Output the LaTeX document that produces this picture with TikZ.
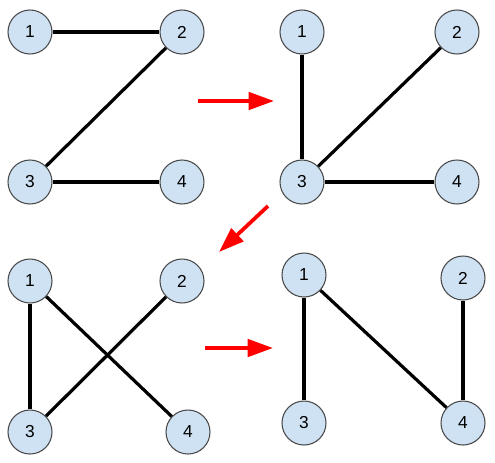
\documentclass[tikz,border=0pt]{standalone}
\usepackage{fontspec}
\setmainfont{Liberation Sans}
\usetikzlibrary{arrows.meta}
\definecolor{nodefill}{HTML}{CFE2F3}
\definecolor{nodeline}{HTML}{4A4A4A}
\begin{document}
\begin{tikzpicture}[x=0.75pt,y=-0.75pt,
  vtx/.style={circle,draw=nodeline,fill=nodefill,line width=0.8pt,minimum size=33pt,inner sep=0pt,font=\fontsize{13}{15}\selectfont},
  edge/.style={line width=2.4pt,black},
  redarrow/.style={draw=red,line width=2.8pt,-{Triangle[length=19pt,width=13pt]}}]
\useasboundingbox (0,0) rectangle (495,462);
% panel 1
\node[vtx] (a1) at (30,32) {1};
\node[vtx] (a2) at (182,32) {2};
\node[vtx] (a3) at (30,182) {3};
\node[vtx] (a4) at (182,182) {4};
% panel 2
\node[vtx] (b1) at (302,32) {1};
\node[vtx] (b2) at (457,32) {2};
\node[vtx] (b3) at (302,182) {3};
\node[vtx] (b4) at (457,182) {4};
% panel 3
\node[vtx] (c1) at (30,281) {1};
\node[vtx] (c2) at (182,281) {2};
\node[vtx] (c3) at (30,432) {3};
\node[vtx] (c4) at (188,432) {4};
% panel 4
\node[vtx] (d1) at (304,275) {1};
\node[vtx] (d2) at (463,278) {2};
\node[vtx] (d3) at (304,423) {3};
\node[vtx] (d4) at (463,423) {4};
% edges
\draw[edge] (a1) -- (a2);
\draw[edge] (a2) -- (a3);
\draw[edge] (a3) -- (a4);
\draw[edge] (b1) -- (b3);
\draw[edge] (b2) -- (b3);
\draw[edge] (b3) -- (b4);
\draw[edge] (c1) -- (c3);
\draw[edge] (c1) -- (c4);
\draw[edge] (c2) -- (c3);
\draw[edge] (d1) -- (d3);
\draw[edge] (d1) -- (d4);
\draw[edge] (d2) -- (d4);
% arrows
\coordinate (r1s) at (198,101);
\coordinate (r1e) at (274,101);
\coordinate (r2s) at (268,206);
\coordinate (r2e) at (219,252);
\coordinate (r3s) at (205,348);
\coordinate (r3e) at (273,348);
\draw[redarrow] (r1s) -- (r1e);
\draw[redarrow] (r2s) -- (r2e);
\draw[redarrow] (r3s) -- (r3e);
\end{tikzpicture}
\end{document}
